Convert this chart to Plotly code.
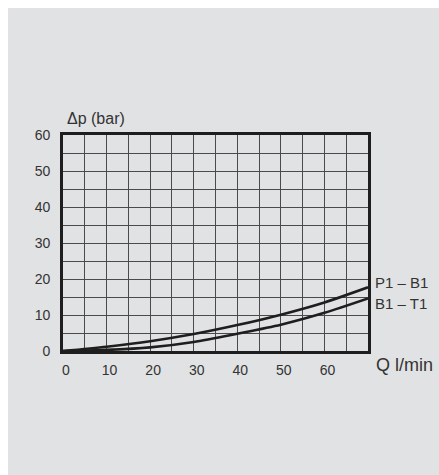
import plotly.graph_objects as go

# ── Data ────────────────────────────────────────────────────────────────────
Q = [0, 10, 20, 30, 40, 50, 60, 70]
P1_B1 = [0, 1.2, 2.7, 4.7, 7.2, 10.1, 13.5, 17.7]
B1_T1 = [0, 0.3, 1.0, 2.5, 4.8, 7.3, 10.6, 14.6]
X_TICKS = [0, 10, 20, 30, 40, 50, 60]
Y_TICKS = [0, 10, 20, 30, 40, 50, 60]

BG = "#e1e2e4"
INK = "#1e1e1e"
TXT = "#333333"
GRID = "#4a4a4a"
FONT = "Liberation Sans, Arial, sans-serif"

fig = go.Figure()
for name, ys in [("P1 – B1", P1_B1), ("B1 – T1", B1_T1)]:
    fig.add_trace(go.Scatter(
        x=Q, y=ys, mode="lines", name=name,
        line=dict(color=INK, width=2.6, shape="spline", smoothing=0.8),
        showlegend=False, hoverinfo="skip",
    ))

# end labels
for name, yy in [("P1 – B1", 19.0), ("B1 – T1", 13.2)]:
    fig.add_annotation(x=70, y=yy, text=name, showarrow=False,
                       xanchor="left", yanchor="middle", xshift=5,
                       font=dict(size=15, color=TXT, family=FONT))

fig.add_annotation(x=0.008, y=1.078, xref="paper", yref="paper",
                   text="Δp (bar)", showarrow=False, xanchor="left", yanchor="middle",
                   font=dict(size=16, color=TXT, family=FONT))
fig.add_annotation(x=1.02, y=-0.066, xref="paper", yref="paper",
                   text="Q l/min", showarrow=False, xanchor="left", yanchor="middle",
                   font=dict(size=18, color=TXT, family=FONT))

# gray panel, leaving a thin white strip along the top and left edges
fig.add_shape(type="rect", xref="paper", yref="paper", layer="below",
              x0=-0.1803, x1=1.5, y0=-0.8, y1=1.588,
              fillcolor=BG, line=dict(width=0))

fig.update_layout(
    width=439, height=475,
    paper_bgcolor="white", plot_bgcolor=BG,
    margin=dict(l=63, r=71, t=135, b=124),
    font=dict(family=FONT, size=14, color=TXT),
    xaxis=dict(range=[0, 70], tickvals=X_TICKS, showgrid=True, gridcolor=GRID,
               gridwidth=1, minor=dict(dtick=5, showgrid=True, gridcolor=GRID, gridwidth=1),
               showline=True, linecolor=INK, linewidth=2.8, mirror=True,
               zeroline=False, ticks="", ticklabelstandoff=4, ticklabelshift=3,
               fixedrange=True),
    yaxis=dict(range=[0, 60], tickvals=Y_TICKS, showgrid=True, gridcolor=GRID,
               gridwidth=1, minor=dict(dtick=5, showgrid=True, gridcolor=GRID, gridwidth=1),
               showline=True, linecolor=INK, linewidth=2.8, mirror=True,
               zeroline=False, ticks="", ticklabelstandoff=7, fixedrange=True),
)

# drop the default page margin so the figure fills the window exactly
fig.write_html(
    "out.html",
    config={"displayModeBar": False},
    post_script="document.body.style.margin='0';"
                "document.body.style.overflow='hidden';",
)
